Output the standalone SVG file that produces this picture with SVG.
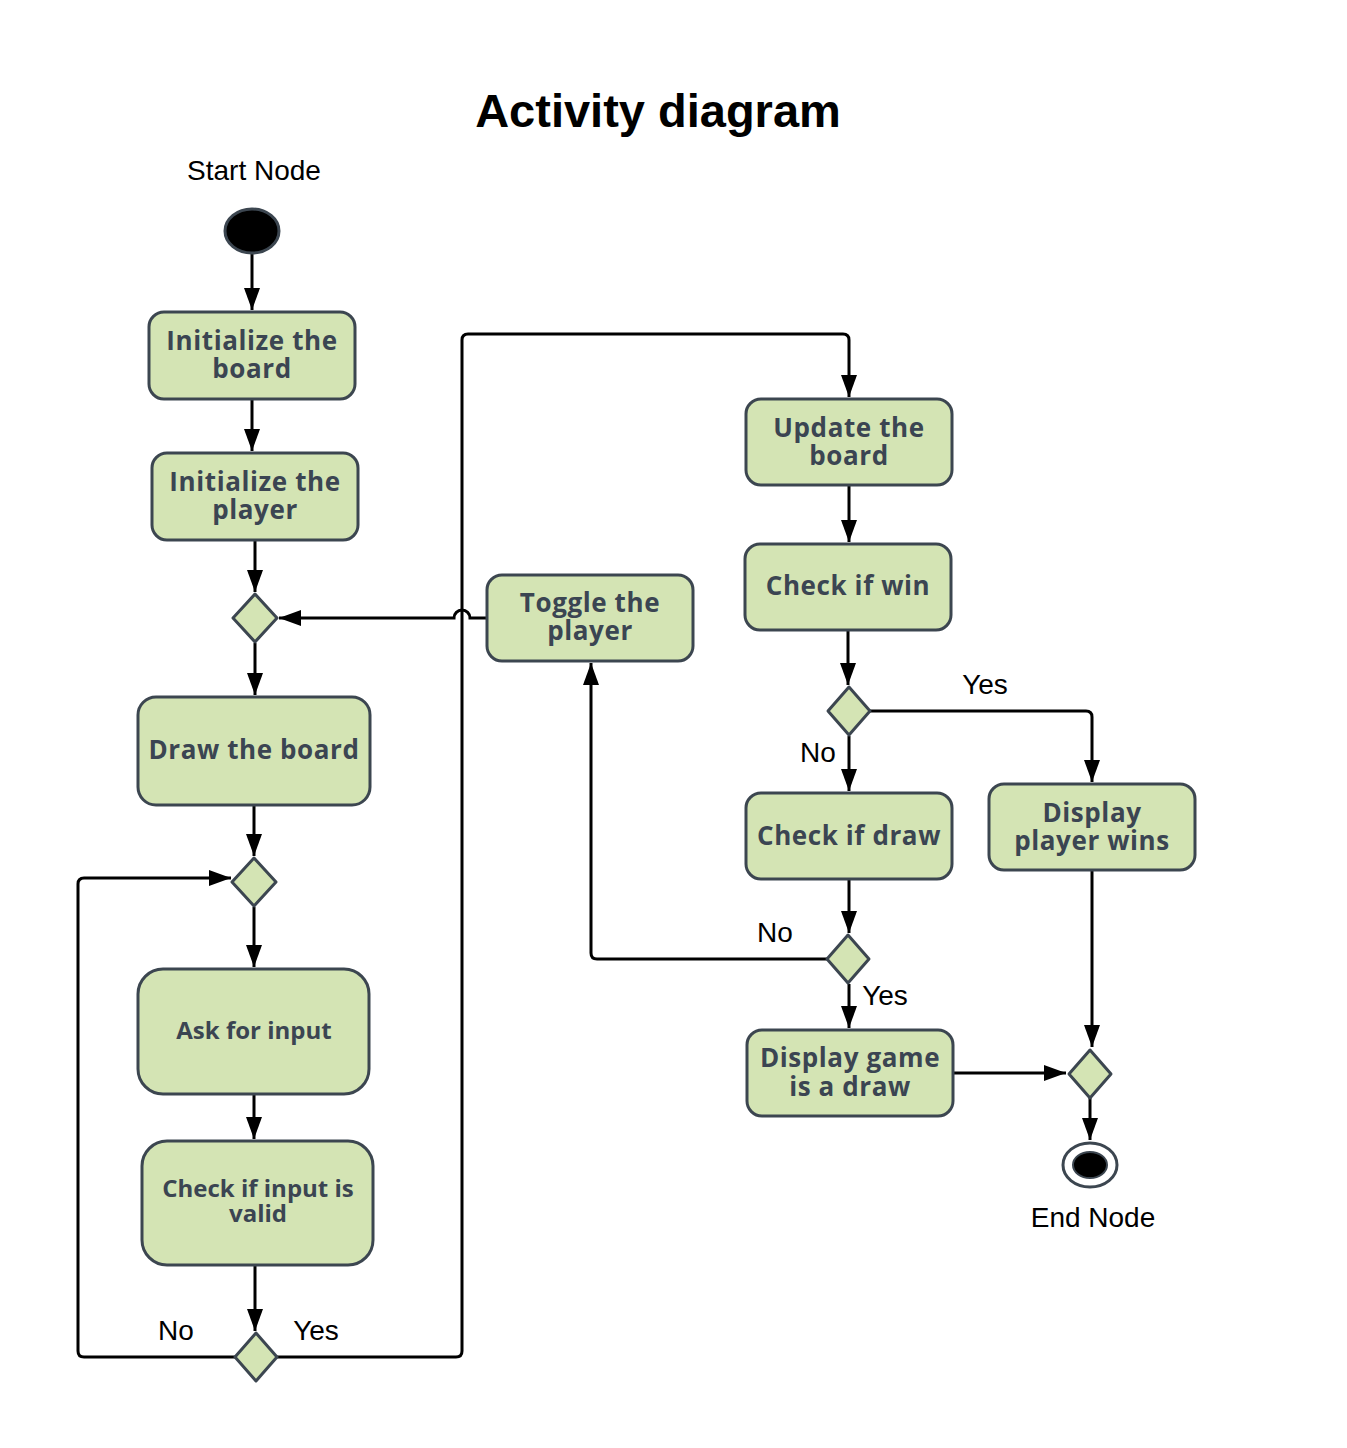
<svg xmlns="http://www.w3.org/2000/svg" width="1347" height="1448" viewBox="0 0 1347 1448">
<defs>
<marker id="ah" markerUnits="userSpaceOnUse" markerWidth="24" markerHeight="16" refX="22" refY="8" orient="auto">
<path d="M0,0 L22,8 L0,16 Z" fill="#000"/>
</marker>
<style>
.box{fill:#d4e4b4;stroke:#3c4650;stroke-width:3}
.dia{fill:#d4e4b4;stroke:#3c4650;stroke-width:3;stroke-linejoin:round}
.t{font-family:"Open Sans","Noto Sans",sans-serif;font-weight:700;font-size:26px;letter-spacing:0.6px;fill:#3b4552;text-anchor:middle}
.ts{font-family:"Open Sans","Noto Sans",sans-serif;font-weight:700;font-size:24px;fill:#3b4552;text-anchor:middle}
.lbl{font-family:"Liberation Sans",Arial,sans-serif;font-size:28px;fill:#000;text-anchor:middle}
.c{fill:none;stroke:#000;stroke-width:3}
.ca{fill:none;stroke:#000;stroke-width:3;marker-end:url(#ah)}
</style>
</defs>
<rect width="1347" height="1448" fill="#fff"/>
<text x="658" y="127" font-family="Liberation Sans,Arial,sans-serif" font-weight="700" font-size="47" text-anchor="middle" fill="#000">Activity diagram</text>

<g id="connectors">
<path class="ca" d="M252,254 V310"/>
<path class="ca" d="M252,399 V451"/>
<path class="ca" d="M255,540 V592"/>
<path class="ca" d="M255,643 V695"/>
<path class="ca" d="M254,805 V856"/>
<path class="ca" d="M254,907 V967"/>
<path class="ca" d="M254,1094 V1139"/>
<path class="ca" d="M255,1265 V1331"/>
<path class="ca" d="M235,1357 H84 Q78,1357 78,1351 V884 Q78,878 84,878 H231"/>
<path class="ca" d="M277,1357 H456 Q462,1357 462,1351 V340 Q462,334 468,334 H843 Q849,334 849,340 V397"/>
<path class="ca" d="M487,618 H470 A8,8 0 0 0 454,618 H279"/>
<path class="ca" d="M849,485 V542"/>
<path class="ca" d="M848,630 V685"/>
<path class="ca" d="M870,711 H1086 Q1092,711 1092,717 V782"/>
<path class="ca" d="M849,736 V791"/>
<path class="ca" d="M849,879 V933"/>
<path class="ca" d="M827,959 H597 Q591,959 591,953 V663"/>
<path class="ca" d="M849,984 V1028"/>
<path class="ca" d="M953,1073 H1066"/>
<path class="ca" d="M1092,870 V1047"/>
<path class="ca" d="M1090,1098 V1140"/>
</g>

<g id="start"><text class="lbl" x="254" y="180">Start Node</text><ellipse cx="252" cy="231" rx="27" ry="22" fill="#000" stroke="#3c4650" stroke-width="3"/></g>
<g id="n1"><rect class="box" x="149" y="312" width="206" height="87" rx="15"/><text class="t" x="252" y="350">Initialize the<tspan x="252" dy="28">board</tspan></text></g>
<g id="n2"><rect class="box" x="152" y="453" width="206" height="87" rx="15"/><text class="t" x="255" y="491">Initialize the<tspan x="255" dy="28">player</tspan></text></g>
<g id="d1"><path class="dia" d="M255,594 L277,618 L255,642 L233,618 Z"/></g>
<g id="n3"><rect class="box" x="138" y="697" width="232" height="108" rx="18"/><text class="t" x="254" y="759">Draw the board</text></g>
<g id="d2"><path class="dia" d="M254,858 L276,882 L254,906 L232,882 Z"/></g>
<g id="n4"><rect class="box" x="138" y="969" width="231" height="125" rx="25"/><text class="ts" x="254" y="1039">Ask for input</text></g>
<g id="n5"><rect class="box" x="142" y="1141" width="231" height="124" rx="25"/><text class="ts" x="258" y="1197">Check if input is<tspan x="258" dy="25">valid</tspan></text></g>
<g id="d3"><path class="dia" d="M256,1333 L277,1357 L256,1381 L235,1357 Z"/><text class="lbl" x="176" y="1340">No</text><text class="lbl" x="316" y="1340">Yes</text></g>
<g id="n6"><rect class="box" x="487" y="575" width="206" height="86" rx="15"/><text class="t" x="590" y="612">Toggle the<tspan x="590" dy="28">player</tspan></text></g>
<g id="n7"><rect class="box" x="746" y="399" width="206" height="86" rx="15"/><text class="t" x="849" y="437">Update the<tspan x="849" dy="28">board</tspan></text></g>
<g id="n8"><rect class="box" x="745" y="544" width="206" height="86" rx="15"/><text class="t" x="848" y="595">Check if win</text></g>
<g id="d4"><path class="dia" d="M849,687 L870,711 L849,735 L828,711 Z"/><text class="lbl" x="985" y="694">Yes</text><text class="lbl" x="818" y="762">No</text></g>
<g id="n9"><rect class="box" x="989" y="784" width="206" height="86" rx="15"/><text class="t" x="1092" y="822">Display<tspan x="1092" dy="28">player wins</tspan></text></g>
<g id="n10"><rect class="box" x="746" y="793" width="206" height="86" rx="15"/><text class="t" x="849" y="845">Check if draw</text></g>
<g id="d5"><path class="dia" d="M848,935 L869,959 L848,983 L827,959 Z"/><text class="lbl" x="775" y="942">No</text><text class="lbl" x="885" y="1005">Yes</text></g>
<g id="n11"><rect class="box" x="747" y="1030" width="206" height="86" rx="15"/><text class="t" x="850" y="1067">Display game<tspan x="850" dy="29">is a draw</tspan></text></g>
<g id="d6"><path class="dia" d="M1090,1050 L1111,1074 L1090,1098 L1069,1074 Z"/></g>
<g id="end"><ellipse cx="1090" cy="1165" rx="27" ry="22" fill="#fff" stroke="#3c4650" stroke-width="3"/><ellipse cx="1090" cy="1165" rx="17" ry="13" fill="#000" stroke="#3c4650" stroke-width="2"/><text class="lbl" x="1093" y="1227">End Node</text></g>
</svg>
